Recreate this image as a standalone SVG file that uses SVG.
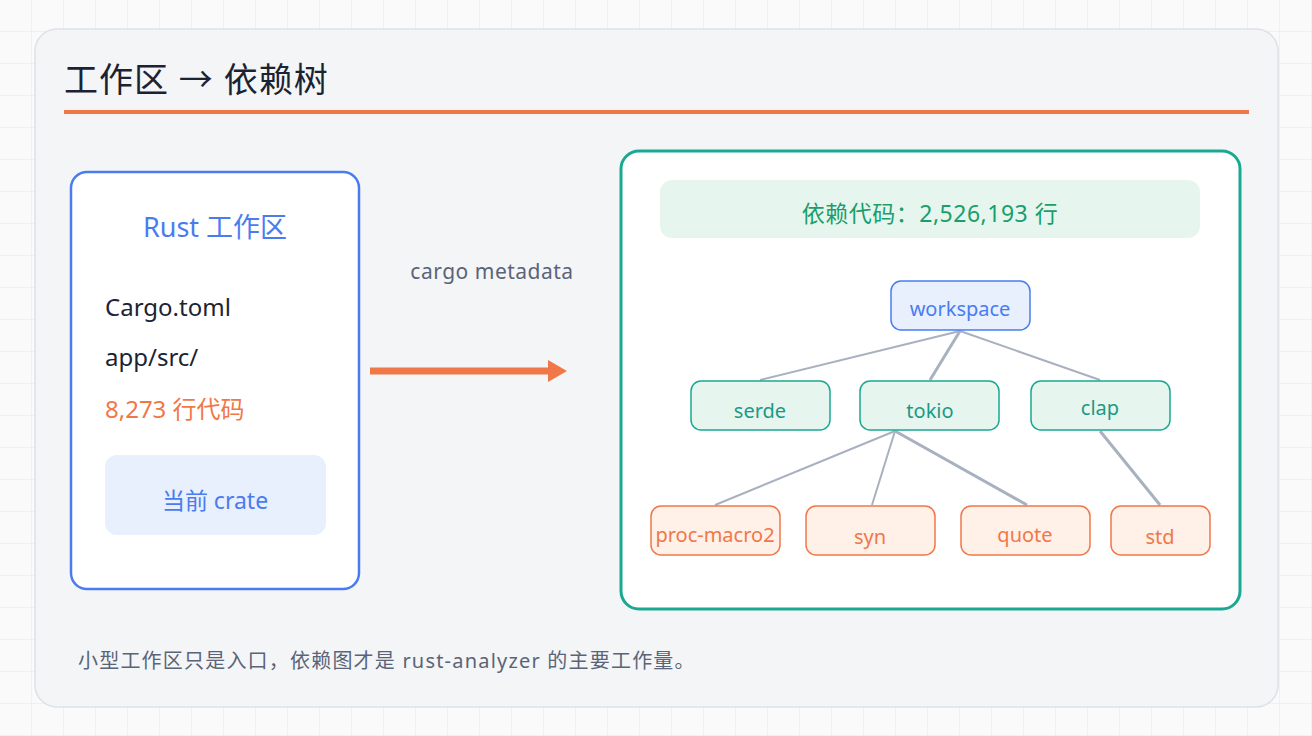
<svg xmlns="http://www.w3.org/2000/svg" width="1312" height="736" viewBox="0 0 1312 736">
<defs>
<pattern id="grid" width="32" height="32" patternUnits="userSpaceOnUse"><path d="M32 0V32H0" fill="none" stroke="#e4e7ec" stroke-width="1"/></pattern>
<style>
text{font-family:"Noto Sans","Noto Sans CJK SC",sans-serif}
.mid{fill:#e6f6ef;stroke:#1aa893;stroke-width:1.5}
.mt{fill:#1a9a86;font-size:20px;text-anchor:middle}
.leaf{fill:#fff0e8;stroke:#f07848;stroke-width:1.5}
.lt{fill:#f07848;font-size:20px;text-anchor:middle}
.edge{stroke:#a9b1c0;fill:none}
</style>
</defs>
<rect width="1312" height="736" fill="#fafafb"/>
<rect width="1312" height="736" fill="url(#grid)"/>
<rect x="35" y="29" width="1243" height="678" rx="22" fill="#f4f5f7" stroke="#dde1e8" stroke-width="1.5"/>
<text x="64" y="92" font-size="34" letter-spacing="1" fill="#1b2333">工作区 → 依赖树</text>
<rect x="64" y="110" width="1185" height="4" fill="#f07848"/>
<g id="workspace-box">
<rect x="71" y="172" width="288" height="417" rx="16" fill="#fff" stroke="#4a7cf0" stroke-width="2.5"/>
<text x="215" y="237" font-size="27" fill="#4a7cf0" text-anchor="middle">Rust 工作区</text>
<text x="105" y="316" font-size="24" fill="#1b2333">Cargo.toml</text>
<text x="105" y="366" font-size="24" fill="#1b2333">app/src/</text>
<text x="105" y="418" font-size="24" fill="#f07848">8,273 行代码</text>
<rect x="105" y="455" width="221" height="80" rx="12" fill="#e8effd"/>
<text x="215" y="509" font-size="23" fill="#4a7cf0" text-anchor="middle">当前 crate</text>
</g>
<g id="arrow">
<text x="492" y="279" font-size="21" letter-spacing="0.5" fill="#5a6478" text-anchor="middle">cargo metadata</text>
<line x1="370" y1="371" x2="550" y2="371" stroke="#f07848" stroke-width="7"/>
<polygon points="548,360 567,371 548,382" fill="#f07848"/>
</g>
<g id="deps-box">
<rect x="621" y="151" width="619" height="458" rx="18" fill="#fff" stroke="#1aa893" stroke-width="3"/>
<rect x="660" y="180" width="540" height="58" rx="12" fill="#e6f6ef"/>
<text x="930" y="222" font-size="23" letter-spacing="0.5" fill="#1a9e6a" text-anchor="middle">依赖代码：2,526,193 行</text>
</g>
<g id="connectors">
<line class="edge" x1="960" y1="331" x2="760" y2="380" stroke-width="2"/>
<line class="edge" x1="960" y1="331" x2="930" y2="380" stroke-width="3"/>
<line class="edge" x1="960" y1="331" x2="1100" y2="380" stroke-width="2"/>
<line class="edge" x1="895" y1="431" x2="715" y2="505" stroke-width="2"/>
<line class="edge" x1="895" y1="431" x2="872" y2="505" stroke-width="2"/>
<line class="edge" x1="895" y1="431" x2="1027" y2="505" stroke-width="3"/>
<line class="edge" x1="1100" y1="431" x2="1160" y2="505" stroke-width="3"/>
</g>
<g id="n-workspace"><rect x="891" y="281" width="139" height="49" rx="10" fill="#e8effd" stroke="#4a7cf0" stroke-width="1.5"/><text x="960" y="316" font-size="20" fill="#4a7cf0" text-anchor="middle">workspace</text></g>
<g id="n-serde"><rect class="mid" x="691" y="381" width="139" height="49" rx="10"/><text class="mt" x="760" y="418">serde</text></g>
<g id="n-tokio"><rect class="mid" x="860" y="381" width="139" height="49" rx="10"/><text class="mt" x="930" y="418">tokio</text></g>
<g id="n-clap"><rect class="mid" x="1031" y="381" width="139" height="49" rx="10"/><text class="mt" x="1100" y="415">clap</text></g>
<g id="n-proc"><rect class="leaf" x="651" y="506" width="129" height="49" rx="10"/><text class="lt" x="715" y="542">proc-macro2</text></g>
<g id="n-syn"><rect class="leaf" x="806" y="506" width="129" height="49" rx="10"/><text class="lt" x="870" y="544">syn</text></g>
<g id="n-quote"><rect class="leaf" x="961" y="506" width="129" height="49" rx="10"/><text class="lt" x="1025" y="542">quote</text></g>
<g id="n-std"><rect class="leaf" x="1111" y="506" width="99" height="49" rx="10"/><text class="lt" x="1160" y="544">std</text></g>
<text x="78" y="668" font-size="20" letter-spacing="1.2" fill="#5a6478">小型工作区只是入口，依赖图才是 rust-analyzer 的主要工作量。</text>
</svg>
